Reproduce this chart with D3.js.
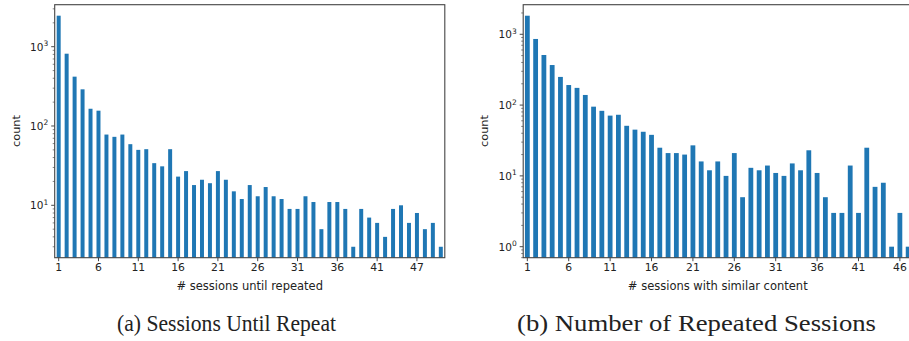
<!DOCTYPE html>
<html><head><meta charset="utf-8">
<script src="https://cdn.jsdelivr.net/npm/d3@7"></script>
<style>body{margin:0;background:#fff}svg{display:block}</style>
</head><body><svg id="c" width="909" height="341"></svg>
<script>
// Panel (a): sessions until repeat
const catsA = [1,2,3,4,5,6,7,8,9,10,11,12,13,14,15,16,17,18,19,20,21,22,23,24,25,26,27,28,29,30,31,32,33,34,35,36,37,38,39,40,41,42,43,44,46,47,48,49,50];
const countsA = [2460,816,419,290,165,156,78,73,78,59,50,51,34,31,51,23,27,18,21,19,27,21,15,12,18,13,17,13,12,9,9,13,11,5,11,11,9,3,9,7,6,4,9,10,6,8,5,6,3];
const ticksA = [1,6,11,16,21,26,31,36,41,47];
// Panel (b): number of repeated sessions
const catsB = d3.range(1,48);
const countsB = [1830,859,510,368,250,192,175,139,95,83,71,73,51,45,42,38,25,21,21,20,27,16,12,16,10,21,5,13,12,14,11,10,15,12,23,11,5,3,3,14,3,25,7,8,1,3,1];
const ticksB = [1,6,11,16,21,26,31,36,41,46];

const svg = d3.select("#c");
svg.append("rect").attr("width",909).attr("height",341).attr("fill","#fff");
const FONT = "DejaVu Sans, sans-serif";
const BLUE = "#1f77b4";

function panel(o){
  const g = svg.append("g");
  const x = d3.scaleBand().domain(o.cats).range([o.x0,o.x1])
      .paddingInner(1-o.bw).paddingOuter((1-o.bw)/2);
  const y = d3.scaleLog().domain(o.ydom).range([o.y1,o.y0]);
  g.selectAll("rect.bar").data(o.cats.map((c,i)=>({c,v:o.vals[i]}))).join("rect")
    .attr("class","bar").attr("x",d=>x(d.c)).attr("width",x.bandwidth())
    .attr("y",d=>y(d.v)).attr("height",d=>o.y1-y(d.v)).attr("fill",BLUE);
  // x axis
  const xa = d3.axisBottom(x).tickValues(o.ticks).tickSize(3.5).tickPadding(2.5);
  const gx = g.append("g").attr("transform",`translate(0,${o.y1})`).call(xa);
  gx.select(".domain").remove();
  gx.selectAll("line").attr("stroke","#333").attr("stroke-width",0.9);
  gx.selectAll("text").attr("font-family",FONT).attr("font-size",10.8).attr("fill","#222");
  // y axis: major + minor
  const [lo,hi] = o.ydom;
  const majors=[], minors=[];
  for(let e=Math.floor(Math.log10(lo)); e<=Math.ceil(Math.log10(hi)); e++){
    for(let m=1;m<10;m++){
      const v=m*Math.pow(10,e);
      if(v<lo||v>hi) continue;
      (m===1?majors:minors).push(v);
    }
  }
  const gy = g.append("g");
  gy.selectAll("line.mn").data(minors).join("line").attr("x1",o.x0).attr("x2",o.x0-2)
    .attr("y1",d=>y(d)).attr("y2",d=>y(d)).attr("stroke","#333").attr("stroke-width",0.6);
  gy.selectAll("line.mj").data(majors).join("line").attr("x1",o.x0).attr("x2",o.x0-3.5)
    .attr("y1",d=>y(d)).attr("y2",d=>y(d)).attr("stroke","#333").attr("stroke-width",0.9);
  const tl = gy.selectAll("text").data(majors).join("text")
    .attr("x",o.x0-6.5).attr("y",d=>y(d)+4).attr("text-anchor","end")
    .attr("font-family",FONT).attr("font-size",10.5).attr("fill","#222");
  tl.append("tspan").text("10");
  tl.append("tspan").attr("dy",-4.5).attr("font-size",7.5).text(d=>Math.round(Math.log10(d)));
  // frame
  g.append("rect").attr("x",o.x0).attr("y",o.y0).attr("width",o.x1-o.x0).attr("height",o.y1-o.y0)
    .attr("fill","none").attr("stroke","#444").attr("stroke-width",1.1);
  // labels
  g.append("text").attr("x",(o.x0+o.x1)/2).attr("y",289.5).attr("text-anchor","middle")
    .attr("font-family",FONT).attr("font-size",11.5).attr("fill","#222").text(o.xlabel);
  g.append("text").attr("transform",`translate(${o.ylx},131) rotate(-90)`).attr("text-anchor","middle")
    .attr("font-family",FONT).attr("font-size",11.3).attr("fill","#222").text("count");
  g.append("text").attr("x",o.capX).attr("y",331).attr("text-anchor","middle")
    .attr("font-family","Liberation Serif, serif").attr("font-size",23).attr("fill","#222")
    .attr("textLength",o.capW).attr("lengthAdjust","spacingAndGlyphs").text(o.caption);
}

panel({cats:catsA, vals:countsA, ticks:ticksA, x0:54.7, x1:444.8, y0:4.7, y1:257.7,
  ydom:[2.184,3385], bw:0.5, xlabel:"# sessions until repeated", ylx:19.5,
  caption:"(a) Sessions Until Repeat", capX:226.5, capW:219});
panel({cats:catsB, vals:countsB, ticks:ticksB, x0:523.2, x1:912.3, y0:4.7, y1:257.7,
  ydom:[0.699,2618], bw:0.58, xlabel:"# sessions with similar content", ylx:488,
  caption:"(b) Number of Repeated Sessions", capX:696.5, capW:359});
</script></body></html>
